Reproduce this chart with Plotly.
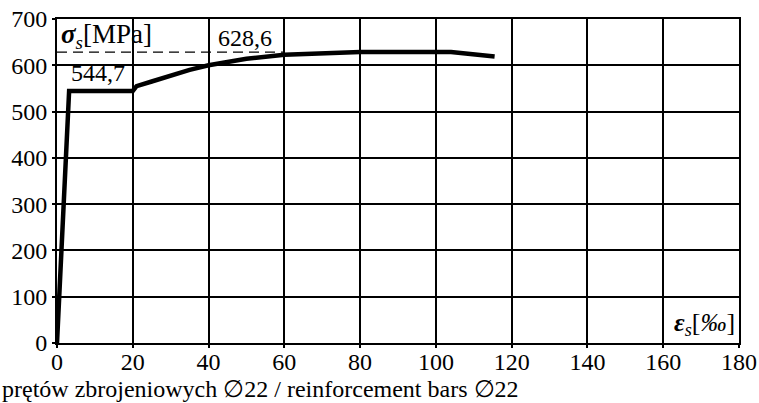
import plotly.graph_objects as go

# stress-strain curve of the reinforcing steel
strain = [0, 3.2, 20, 21, 25, 30, 35, 40, 50, 60, 70, 80, 104, 115.5]
stress = [0, 544.7, 544.7, 555, 565, 578, 590, 600, 614, 623, 627, 628.6, 628.6, 619]

yield_stress = 544.7
tensile_strength = 628.6

x_ticks = [0, 20, 40, 60, 80, 100, 120, 140, 160, 180]
y_ticks = [0, 100, 200, 300, 400, 500, 600, 700]

caption = "prętów zbrojeniowych ∅22 / reinforcement bars ∅22"

FONT = "Liberation Serif, Times New Roman, serif"
FS = 24

W, H = 759, 403
L, R, T, B = 57, 20, 19, 60

fig = go.Figure()

# dashed reference line at the tensile strength
fig.add_trace(go.Scatter(
    x=[0, 60], y=[tensile_strength, tensile_strength], mode="lines",
    line=dict(color="black", width=1.2, dash="10px,6px"),
    hoverinfo="skip", showlegend=False))

fig.add_trace(go.Scatter(
    x=strain, y=stress, mode="lines",
    line=dict(color="black", width=4.5),
    showlegend=False))

axis_common = dict(
    showline=True, linecolor="black", linewidth=2, mirror=True,
    showgrid=True, gridcolor="black", gridwidth=1.8,
    ticks="outside", ticklen=3, tickwidth=1.5, tickcolor="black",
    zeroline=False, automargin=False,
    tickfont=dict(family=FONT, size=FS, color="black"),
)

fig.update_xaxes(range=[0, 180], tickvals=x_ticks,
                 ticktext=[str(v) for v in x_ticks],
                 ticklabelstandoff=-7, **axis_common)
fig.update_yaxes(range=[0, 700], tickvals=y_ticks,
                 ticktext=[str(v) for v in y_ticks], **axis_common)

# white field behind the stress-axis label (hides the grid, keeps the dashes)
fig.add_shape(type="rect", xref="x", yref="y", x0=0, x1=25.5, y0=634, y1=700,
              fillcolor="white", line=dict(width=0), layer="below")

pw = W - L - R
ph = H - T - B

annotations = [
    dict(x=0.4, y=700, xref="x", yref="y", xanchor="left", yanchor="top",
         yshift=2,
         text="<b><i>σ</i></b><i><sub>s</sub></i>[MPa]", showarrow=False,
         font=dict(family=FONT, size=27, color="black")),
    dict(x=10.8, y=583, xref="x", yref="y", xanchor="center", yanchor="middle",
         text=f"{yield_stress:.1f}".replace(".", ","), showarrow=False,
         font=dict(family=FONT, size=FS, color="black")),
    dict(x=49.6, y=658, xref="x", yref="y", xanchor="center", yanchor="middle",
         text=f"{tensile_strength:.1f}".replace(".", ","), showarrow=False,
         font=dict(family=FONT, size=FS, color="black")),
    dict(x=179.5, y=3, xref="x", yref="y", xanchor="right", yanchor="bottom",
         text="<b><i>ε</i></b><i><sub>s</sub></i>[<i>‰</i>]", showarrow=False,
         font=dict(family=FONT, size=26, color="black")),
    dict(x=-L / pw, y=(343.4 - 389) / ph, xref="paper", yref="paper",
         xanchor="left", yanchor="middle", text=caption, showarrow=False,
         font=dict(family=FONT, size=FS, color="black")),
]

fig.update_layout(
    width=W, height=H,
    margin=dict(l=L, r=R, t=T, b=B),
    paper_bgcolor="white", plot_bgcolor="white",
    annotations=annotations,
)

fig.write_html("out.html")
